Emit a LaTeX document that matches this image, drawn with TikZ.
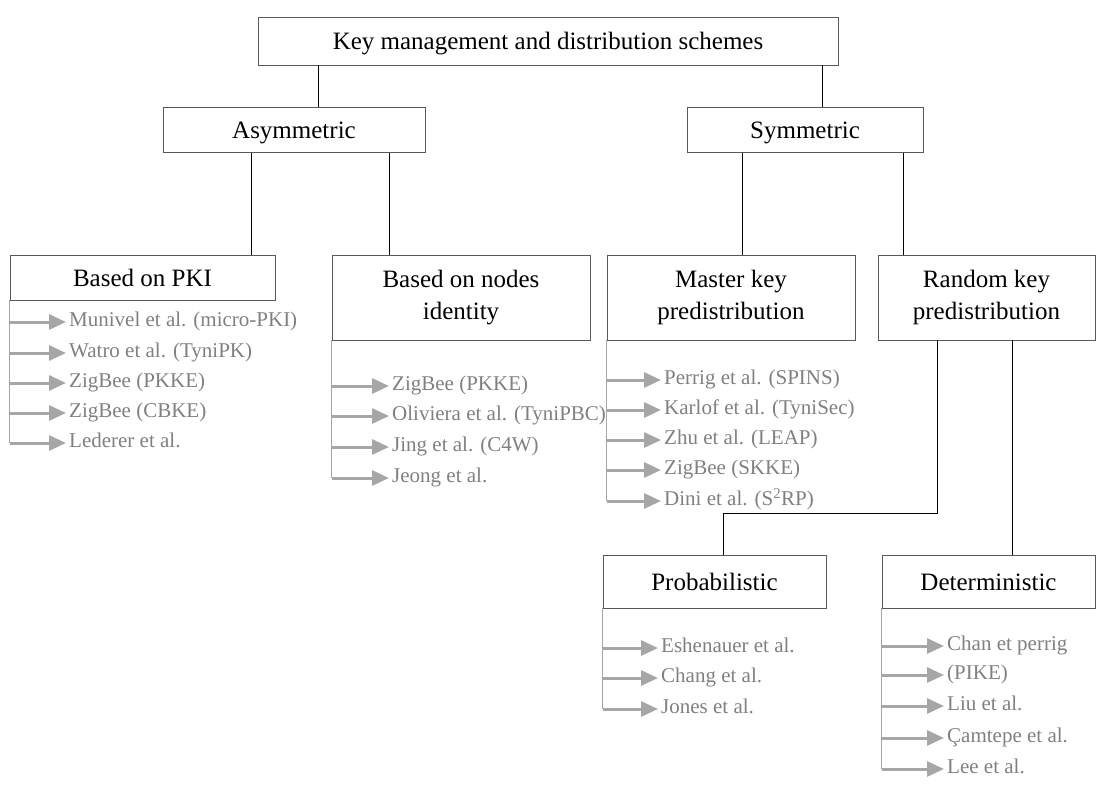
\documentclass[tikz,border=0pt]{standalone}
\usepackage{fontspec}
\setmainfont{Liberation Serif}
\usetikzlibrary{arrows.meta}
\definecolor{boxgrey}{RGB}{89,89,89}
\definecolor{itemgrey}{RGB}{128,128,128}
\definecolor{arrowgrey}{RGB}{166,166,166}

\begin{document}
\begin{tikzpicture}[x=1pt,y=-1pt]

%
% Styles
%
\tikzstyle{scheme} = [rectangle,draw=boxgrey,thin,inner sep=0pt,font=\fontsize{25}{32}\selectfont]
\tikzstyle{oneline} = [scheme,text height=17pt,text depth=0pt]
\tikzstyle{twoline} = [scheme,align=center]
\tikzstyle{ref} = [anchor=west,inner sep=0pt,text height=14pt,text depth=4.5pt,text=itemgrey,font=\fontsize{21}{24}\selectfont]
\tikzstyle{tree} = [draw=black,thin]
\tikzstyle{rail} = [draw=arrowgrey,line width=1pt]
\tikzstyle{pointer} = [draw=arrowgrey,line width=3pt,-{Triangle[length=17pt,width=15pt]},shorten >=3pt]

\useasboundingbox (0,0) rectangle (1097,787);

\node[oneline,minimum width=580pt,minimum height=48pt] (kmd)  at ( 548, 41)   {Key management and distribution schemes};
\node[oneline,minimum width=262pt,minimum height=45pt] (asym) at ( 294,130)   {Asymmetric};
\node[oneline,minimum width=236pt,minimum height=45pt] (sym)  at ( 805,130)   {Symmetric};
\node[oneline,minimum width=265pt,minimum height=45pt] (pki)  at (142.5,277.5) {Based on PKI};
\node[twoline,minimum width=258pt,minimum height=85pt] (nid)  at ( 461,297.5) {Based on nodes\\identity};
\node[twoline,minimum width=248pt,minimum height=85pt] (mkp)  at ( 731,297.5) {Master key\\predistribution};
\node[twoline,minimum width=217pt,minimum height=85pt] (rkp)  at (986.5,297.5) {Random key\\predistribution};
\node[oneline,minimum width=223pt,minimum height=53pt] (prob) at (714.5,581.5) {Probabilistic};
\node[oneline,minimum width=213pt,minimum height=53pt] (det)  at (988.5,581.5) {Deterministic};

%
% Tree
%
\draw[tree] (318,0 |- kmd.south)  -- (318,0 |- asym.north);
\draw[tree] (822,0 |- kmd.south)  -- (822,0 |- sym.north);
\draw[tree] (251,0 |- asym.south) -- (251,0 |- pki.north);
\draw[tree] (389,0 |- asym.south) -- (389,0 |- nid.north);
\draw[tree] (742,0 |- sym.south)  -- (742,0 |- mkp.north);
\draw[tree] (903,0 |- sym.south)  -- (903,0 |- rkp.north);
\draw[tree] (937,0 |- rkp.south)  -- (937,513) -- (723,513) -- (723,0 |- prob.north);
\draw[tree] (1012,0 |- rkp.south) -- (1012,0 |- det.north);

%
% Based on PKI
%
\node[ref] (p1) at (69,322) {Munivel et al. (micro-PKI)};
\node[ref] (p2) at (69,353) {Watro et al. (TyniPK)};
\node[ref] (p3) at (69,383) {ZigBee (PKKE)};
\node[ref] (p4) at (69,413) {ZigBee (CBKE)};
\node[ref] (p5) at (69,443) {Lederer et al.};
\draw[rail] (pki.south west) -- (pki.south west |- p5.west);
\draw[pointer] (pki.south west |- p1.west) -- (p1.west);
\draw[pointer] (pki.south west |- p2.west) -- (p2.west);
\draw[pointer] (pki.south west |- p3.west) -- (p3.west);
\draw[pointer] (pki.south west |- p4.west) -- (p4.west);
\draw[pointer] (pki.south west |- p5.west) -- (p5.west);

%
% Based on nodes identity
%
\node[ref] (n1) at (392,386) {ZigBee (PKKE)};
\node[ref] (n2) at (392,416) {Oliviera et al. (TyniPBC)};
\node[ref] (n3) at (392,447) {Jing et al. (C4W)};
\node[ref] (n4) at (392,478) {Jeong et al.};
\draw[rail] (nid.south west) -- (nid.south west |- n4.west);
\draw[pointer] (nid.south west |- n1.west) -- (n1.west);
\draw[pointer] (nid.south west |- n2.west) -- (n2.west);
\draw[pointer] (nid.south west |- n3.west) -- (n3.west);
\draw[pointer] (nid.south west |- n4.west) -- (n4.west);

%
% Master key predistribution
%
\node[ref] (m1) at (664,380) {Perrig et al. (SPINS)};
\node[ref] (m2) at (664,410) {Karlof et al. (TyniSec)};
\node[ref] (m3) at (664,440) {Zhu et al. (LEAP)};
\node[ref] (m4) at (664,470) {ZigBee (SKKE)};
\node[ref] (m5) at (664,501) {Dini et al. (S\textsuperscript{2}RP)};
\draw[rail] (mkp.south west) -- (mkp.south west |- m5.west);
\draw[pointer] (mkp.south west |- m1.west) -- (m1.west);
\draw[pointer] (mkp.south west |- m2.west) -- (m2.west);
\draw[pointer] (mkp.south west |- m3.west) -- (m3.west);
\draw[pointer] (mkp.south west |- m4.west) -- (m4.west);
\draw[pointer] (mkp.south west |- m5.west) -- (m5.west);

%
% Probabilistic
%
\node[ref] (q1) at (661,648) {Eshenauer et al.};
\node[ref] (q2) at (661,678) {Chang et al.};
\node[ref] (q3) at (661,709) {Jones et al.};
\draw[rail] (prob.south west) -- (prob.south west |- q3.west);
\draw[pointer] (prob.south west |- q1.west) -- (q1.west);
\draw[pointer] (prob.south west |- q2.west) -- (q2.west);
\draw[pointer] (prob.south west |- q3.west) -- (q3.west);

%
% Deterministic
%
\node[ref] (d1) at (947,646) {Chan et perrig};
\node[ref] (d2) at (947,675) {(PIKE)};
\node[ref] (d3) at (947,706) {Liu et al.};
\node[ref] (d4) at (947,738) {Çamtepe et al.};
\node[ref] (d5) at (947,769) {Lee et al.};
\draw[rail] (det.south west) -- (det.south west |- d5.west);
\draw[pointer] (det.south west |- d1.west) -- (d1.west);
\draw[pointer] (det.south west |- d2.west) -- (d2.west);
\draw[pointer] (det.south west |- d3.west) -- (d3.west);
\draw[pointer] (det.south west |- d4.west) -- (d4.west);
\draw[pointer] (det.south west |- d5.west) -- (d5.west);

\end{tikzpicture}
\end{document}
